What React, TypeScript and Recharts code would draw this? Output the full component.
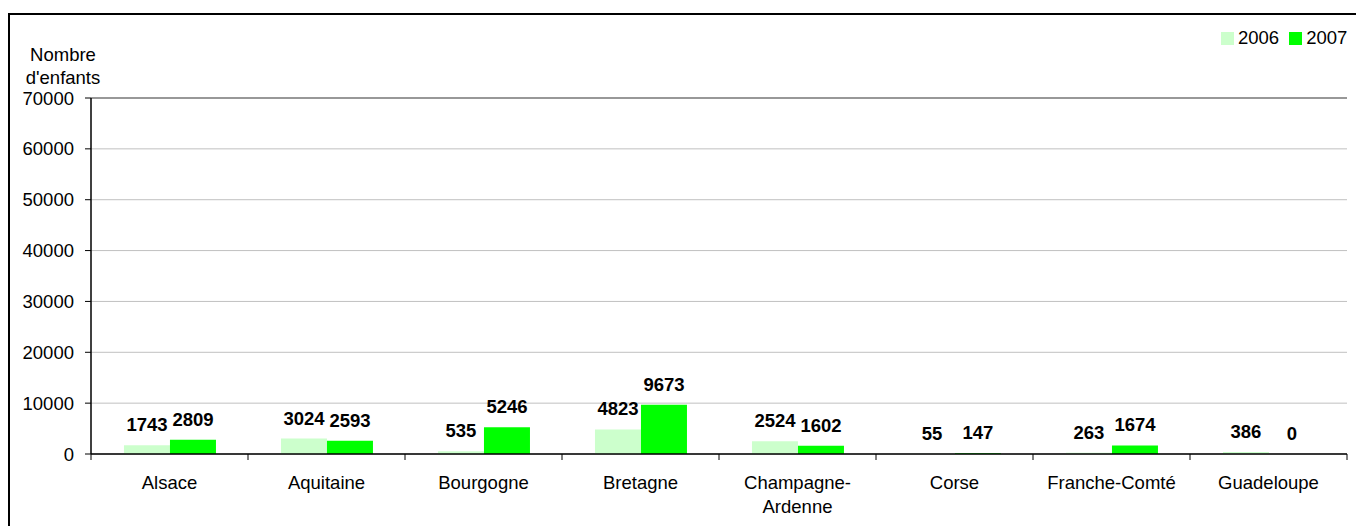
import { BarChart, Bar, XAxis, YAxis, CartesianGrid, Legend, LabelList, ReferenceLine } from 'recharts';

const regions = ['Alsace', 'Aquitaine', 'Bourgogne', 'Bretagne', 'Champagne-Ardenne', 'Corse', 'Franche-Comté', 'Guadeloupe'];
const values2006 = [1743, 3024, 535, 4823, 2524, 55, 263, 386];
const values2007 = [2809, 2593, 5246, 9673, 1602, 147, 1674, 0];
const yTicks = [0, 10000, 20000, 30000, 40000, 50000, 60000, 70000];

const CHART_W = 1356;
const CHART_H = 518;
const MARGIN = { top: 90, right: 17, left: 0, bottom: 0 };
const Y_AXIS_W = 83;
const FONT = '"Liberation Sans", Arial, sans-serif';
const LIGHT = '#ccffcc';
const GREEN = '#00ff00';

const chartData = regions.map((region, i) => ({
  region,
  y2006: values2006[i],
  y2007: values2007[i],
}));

const bandWidth = (CHART_W - MARGIN.left - MARGIN.right - Y_AXIS_W) / regions.length;

// long names wrap after the hyphen, like the original
function splitLabel(name: string): string[] {
  if (name.length > 14 && name.includes('-')) {
    const i = name.indexOf('-');
    return [name.slice(0, i + 1), name.slice(i + 1)];
  }
  return [name];
}

function RegionTick(props: any) {
  const { x, y, payload, index } = props;
  const axisY = y - 8;
  const lines = splitLabel(String(payload.value));
  return (
    <g>
      <line x1={x - bandWidth / 2} x2={x - bandWidth / 2} y1={axisY} y2={axisY + 6} stroke="#000" />
      {index === regions.length - 1 && (
        <line x1={x + bandWidth / 2} x2={x + bandWidth / 2} y1={axisY} y2={axisY + 6} stroke="#000" />
      )}
      <text x={x} y={axisY + 35} textAnchor="middle" fontSize={18.5} fontFamily={FONT} fill="#000">
        {lines.map((line, i) => (
          <tspan key={i} x={x} dy={i === 0 ? 0 : 24}>
            {line}
          </tspan>
        ))}
      </text>
    </g>
  );
}

function LegendBox() {
  const items = [
    { name: '2006', color: LIGHT },
    { name: '2007', color: GREEN },
  ];
  return (
    <div style={{ display: 'flex', alignItems: 'center', fontFamily: FONT, fontSize: 18.5, color: '#000' }}>
      {items.map((item) => (
        <div key={item.name} style={{ display: 'flex', alignItems: 'center', marginRight: 10 }}>
          <span style={{ display: 'inline-block', width: 13, height: 13, background: item.color, marginRight: 4 }} />
          <span>{item.name}</span>
        </div>
      ))}
    </div>
  );
}

function AxisTitle() {
  return (
    <text textAnchor="middle" fontSize={18.5} fontFamily={FONT} fill="#000">
      <tspan x={55} y={53}>Nombre</tspan>
      <tspan x={55} y={76}>d'enfants</tspan>
    </text>
  );
}

export default function App() {
  return (
    <div style={{ position: 'relative', width: CHART_W, height: CHART_H }}>
      <div
        style={{
          position: 'absolute',
          left: 0,
          top: 5,
          width: CHART_W - 2,
          height: CHART_H - 5,
          borderTop: '2px solid #000',
          borderLeft: '2px solid #000',
          boxSizing: 'border-box',
        }}
      />
      <BarChart
        width={CHART_W}
        height={CHART_H}
        data={chartData}
        margin={MARGIN}
        barCategoryGap="21%"
        barGap={0}
        style={{ position: 'absolute', left: 0, top: 0 }}
      >
        <CartesianGrid vertical={false} stroke="#c0c0c0" />
        <ReferenceLine y={70000} stroke="#808080" strokeWidth={1.5} />
        <XAxis
          dataKey="region"
          interval={0}
          height={72}
          tickSize={6}
          tickMargin={2}
          tickLine={false}
          axisLine={{ stroke: '#000', strokeWidth: 1.5 }}
          tick={<RegionTick />}
        />
        <YAxis
          width={Y_AXIS_W}
          domain={[0, 70000]}
          ticks={yTicks}
          interval={0}
          tickSize={6}
          tickMargin={11}
          tick={{ fontSize: 18.5, fontFamily: FONT, fill: '#000' }}
          tickLine={{ stroke: '#000' }}
          axisLine={{ stroke: '#000', strokeWidth: 1.5 }}
          label={<AxisTitle />}
        />
        <YAxis
          yAxisId="right"
          orientation="right"
          width={0}
          domain={[0, 70000]}
          tick={false}
          tickLine={false}
          axisLine={{ stroke: '#808080', strokeWidth: 1.5 }}
        />
        <Legend
          verticalAlign="middle"
          align="center"
          content={<LegendBox />}
          wrapperStyle={{ top: 19, left: 1213, width: 'auto' }}
        />
        <Bar dataKey="y2006" name="2006" fill={LIGHT} isAnimationActive={false}>
          <LabelList dataKey="y2006" position="top" offset={14} fontSize={18.5} fontWeight="bold" fontFamily={FONT} fill="#000" />
        </Bar>
        <Bar
          dataKey="y2007"
          name="2007"
          fill={GREEN}
          minPointSize={(v: number) => (v === 0 ? 0.01 : 0)}
          isAnimationActive={false}
        >
          <LabelList dataKey="y2007" position="top" offset={14} fontSize={18.5} fontWeight="bold" fontFamily={FONT} fill="#000" />
        </Bar>
      </BarChart>
    </div>
  );
}
